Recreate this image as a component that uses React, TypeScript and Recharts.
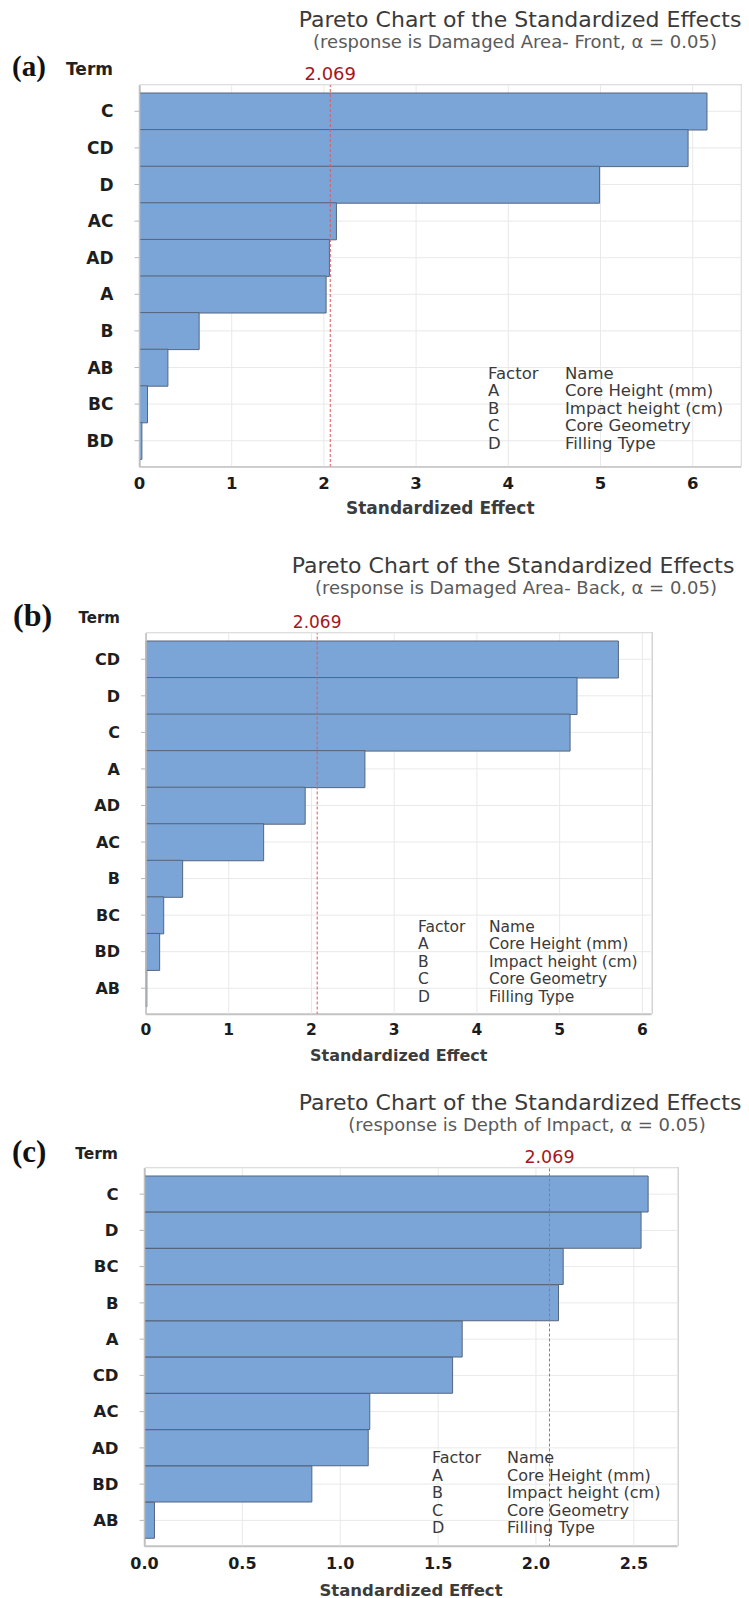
import React from "react";
import { Bar, BarChart, CartesianGrid, ReferenceLine, XAxis, YAxis } from "recharts";

// Pareto charts of standardized effects, three responses stacked (a), (b), (c).

const SANS = '"DejaVu Sans", Verdana, sans-serif';
const SERIF = '"Liberation Serif", "Times New Roman", serif';

const BAR_FILL = "#7BA5D7";
const BAR_EDGE = "#56657B";
const CRIT_RED = "#A5171C";

const CRITICAL = 2.069;

// (a) Damaged Area - Front
const termsFront = ["C", "CD", "D", "AC", "AD", "A", "B", "AB", "BC", "BD"];
const effectsFront = [6.155, 5.95, 4.99, 2.136, 2.06, 2.024, 0.647, 0.308, 0.087, 0.026];
const ticksFront = [0, 1, 2, 3, 4, 5, 6];

// (b) Damaged Area - Back
const termsBack = ["CD", "D", "C", "A", "AD", "AC", "B", "BC", "BD", "AB"];
const effectsBack = [5.71, 5.21, 5.126, 2.646, 1.924, 1.422, 0.443, 0.214, 0.165, 0.01];
const ticksBack = [0, 1, 2, 3, 4, 5, 6];

// (c) Depth of Impact
const termsDepth = ["C", "D", "BC", "B", "A", "CD", "AC", "AD", "BD", "AB"];
const effectsDepth = [2.573, 2.537, 2.139, 2.115, 1.623, 1.574, 1.151, 1.143, 0.855, 0.051];
const ticksDepth = [0, 0.5, 1, 1.5, 2, 2.5];

const factorCodes = ["A", "B", "C", "D"];
const factorNames = ["Core Height (mm)", "Impact height (cm)", "Core Geometry", "Filling Type"];

type Box = { left: number; right: number; top: number; bottom: number };

type PanelProps = {
  tag: string;
  tagSize: number;
  tagX: number;
  headY: number;
  termRight: number;
  termSize: number;
  title: string;
  subtitle: string;
  titleX: number;
  titleY: number;
  subX: number;
  subY: number;
  terms: string[];
  effects: number[];
  ticks: number[];
  decimals: number;
  xMax: number;
  plot: Box;
  fs: number;
  xTickMargin: number;
  axisTitleOffset: number;
  legendX: number;
  legendNameX: number;
  legendY: number;
  legendSize: number;
};

const MT = 24;
const XH = 56;
const PAGE_W = 749;

// text placed by its visual centre line
const Txt = ({
  x, y, size, children, align = "left", family = SANS, weight = 400, color = "#333",
}: {
  x: number; y: number; size: number; children: React.ReactNode;
  align?: "left" | "center" | "right"; family?: string; weight?: number; color?: string;
}) => {
  const k = family === SERIF ? 0.58 : 0.48;
  const style: React.CSSProperties = {
    position: "absolute",
    top: y - k * size,
    fontFamily: family,
    fontSize: size,
    fontWeight: weight,
    lineHeight: 1,
    color,
    whiteSpace: "nowrap",
  };
  if (align === "left") style.left = x;
  if (align === "right") style.right = PAGE_W - x;
  if (align === "center") {
    style.left = x - 300;
    style.width = 600;
    style.textAlign = "center";
  }
  return <div style={style}>{children}</div>;
};

const ParetoPanel = (p: PanelProps) => {
  const data = p.terms.map((term, i) => ({ term, effect: p.effects[i] }));
  const plotW = p.plot.right - p.plot.left;
  const plotH = p.plot.bottom - p.plot.top;

  return (
    <>
      <Txt x={p.titleX} y={p.titleY} size={22} align="center" color="#3a3a3a">{p.title}</Txt>
      <Txt x={p.subX} y={p.subY} size={18} align="center" color="#5a5a5a">{p.subtitle}</Txt>
      <Txt x={p.tagX} y={p.headY} size={p.tagSize} family={SERIF} weight={700} color="#111">{p.tag}</Txt>
      <Txt x={p.termRight} y={p.headY} size={p.termSize} align="right" weight={700} color="#222">Term</Txt>

      <div
        style={{
          position: "absolute",
          left: p.plot.left,
          top: p.plot.top - 1,
          width: plotW + 1,
          height: plotH + 1,
          boxSizing: "border-box",
          border: "1.5px solid #d4d4d4",
        }}
      />

      <div style={{ position: "absolute", left: 0, top: p.plot.top - MT }}>
        <BarChart
          width={PAGE_W}
          height={MT + plotH + XH}
          data={data}
          layout="vertical"
          margin={{ top: MT, right: PAGE_W - p.plot.right, bottom: 0, left: 0 }}
          barCategoryGap={0}
        >
          <CartesianGrid stroke="#e9e9e9" strokeWidth={1} />
          <XAxis
            type="number"
            domain={[0, p.xMax]}
            ticks={p.ticks}
            height={XH}
            tickFormatter={(v: number) => v.toFixed(p.decimals)}
            tickLine={false}
            tickSize={5}
            tickMargin={p.xTickMargin}
            axisLine={{ stroke: "#c4c4c4", strokeWidth: 1.5 }}
            tick={{ fontSize: p.fs - 0.5, fontWeight: 700, fill: "#1c1c1c", fontFamily: SANS }}
            label={{
              value: "Standardized Effect",
              position: "insideBottom",
              offset: p.axisTitleOffset,
              fontSize: p.fs,
              fontWeight: 700,
              fill: "#3c3c3c",
              fontFamily: SANS,
            }}
          />
          <YAxis
            type="category"
            dataKey="term"
            width={p.plot.left}
            interval={0}
            padding={{ top: 8, bottom: 8 }}
            tickSize={5}
            tickMargin={21}
            tickLine={{ stroke: "#b8b8b8" }}
            axisLine={{ stroke: "#c0c0c0", strokeWidth: 1.5 }}
            tick={{ fontSize: p.fs, fontWeight: 700, fill: "#1e1e1e", fontFamily: SANS }}
          />
          <ReferenceLine
            x={CRITICAL}
            stroke="#E5575B"
            strokeWidth={1}
            strokeDasharray="3 2"
            label={{
              value: CRITICAL.toFixed(3),
              position: "top",
              offset: 5,
              fill: CRIT_RED,
              fontSize: p.fs + 1,
              fontFamily: SANS,
            }}
          />
          <Bar
            dataKey="effect"
            fill={BAR_FILL}
            stroke={BAR_EDGE}
            strokeWidth={1}
            isAnimationActive={false}
          />
        </BarChart>
      </div>

      <Txt x={p.legendX} y={p.legendY} size={p.legendSize} color="#3a3a3a">Factor</Txt>
      <Txt x={p.legendNameX} y={p.legendY} size={p.legendSize} color="#3a3a3a">Name</Txt>
      {factorCodes.map((code, i) => (
        <React.Fragment key={code}>
          <Txt x={p.legendX} y={p.legendY + 17.5 * (i + 1)} size={p.legendSize} color="#3a3a3a">{code}</Txt>
          <Txt x={p.legendNameX} y={p.legendY + 17.5 * (i + 1)} size={p.legendSize} color="#3a3a3a">{factorNames[i]}</Txt>
        </React.Fragment>
      ))}
    </>
  );
};

export default function App() {
  return (
    <div
      style={{
        position: "absolute",
        left: 0,
        top: 0,
        width: PAGE_W,
        height: 1598,
        background: "#fff",
        overflow: "hidden",
      }}
    >
      <ParetoPanel
        tag="(a)" tagSize={29} tagX={12} headY={69} termRight={113} termSize={17}
        title="Pareto Chart of the Standardized Effects"
        subtitle="(response is Damaged Area- Front, α = 0.05)"
        titleX={520} titleY={20} subX={515} subY={42}
        terms={termsFront} effects={effectsFront} ticks={ticksFront} decimals={0}
        xMax={6.524}
        plot={{ left: 139.5, right: 741, top: 84.5, bottom: 466.5 }}
        fs={17} xTickMargin={5} axisTitleOffset={9}
        legendX={488} legendNameX={565} legendY={373.5} legendSize={16.5}
      />
      <ParetoPanel
        tag="(b)" tagSize={32} tagX={13} headY={618} termRight={120} termSize={15}
        title="Pareto Chart of the Standardized Effects"
        subtitle="(response is Damaged Area- Back, α = 0.05)"
        titleX={513} titleY={566} subX={516} subY={588}
        terms={termsBack} effects={effectsBack} ticks={ticksBack} decimals={0}
        xMax={6.11}
        plot={{ left: 146, right: 651.5, top: 632.5, bottom: 1014 }}
        fs={16} xTickMargin={4} axisTitleOffset={10}
        legendX={418} legendNameX={489} legendY={927} legendSize={15.5}
      />
      <ParetoPanel
        tag="(c)" tagSize={31} tagX={12} headY={1154} termRight={118} termSize={15.5}
        title="Pareto Chart of the Standardized Effects"
        subtitle="(response is Depth of Impact, α = 0.05)"
        titleX={520} titleY={1103} subX={527} subY={1125}
        terms={termsDepth} effects={effectsDepth} ticks={ticksDepth} decimals={1}
        xMax={2.723}
        plot={{ left: 144.5, right: 677.5, top: 1167.5, bottom: 1546 }}
        fs={16.5} xTickMargin={6} axisTitleOffset={7}
        legendX={432} legendNameX={507} legendY={1458} legendSize={16}
      />
    </div>
  );
}
